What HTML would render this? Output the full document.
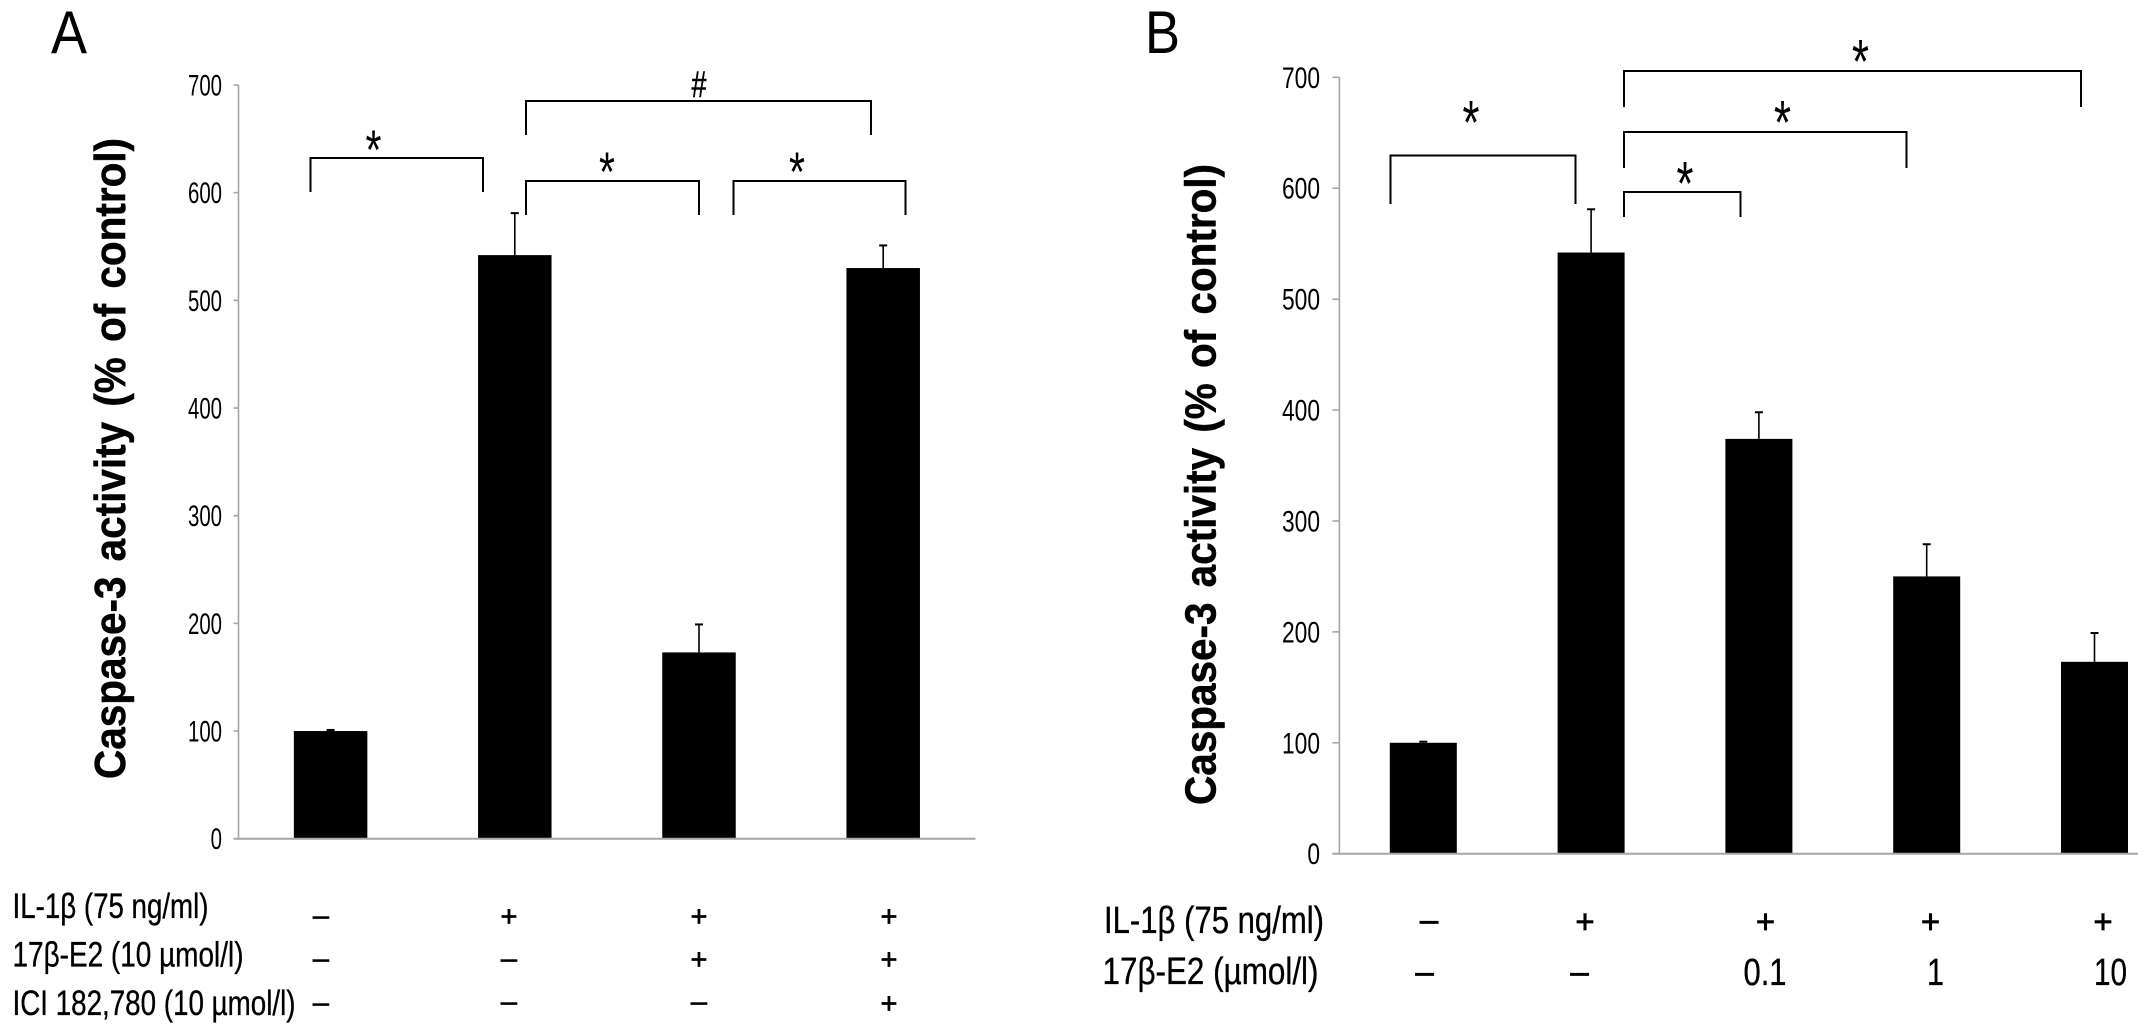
<!DOCTYPE html>
<html lang="en">
<head>
<meta charset="utf-8">
<title>Caspase-3 activity panels A and B</title>
<style>
html,body{margin:0;padding:0;background:#fff;width:2150px;height:1036px;overflow:hidden}
svg{display:block}
text{font-family:"Liberation Sans",sans-serif;fill:#000}
.title{font-weight:bold;font-size:44px;word-spacing:4.3px;stroke:#000;stroke-width:.5}
.row{font-size:35px;stroke:#000;stroke-width:.35}
.sym{font-size:29px;text-anchor:middle;stroke:#000;stroke-width:.7}
.star{font-size:56px;text-anchor:middle}
.starb{font-size:62px;text-anchor:middle}
.br{fill:none;stroke:#000;stroke-width:2}
</style>
</head>
<body>
<svg id="figure" xmlns="http://www.w3.org/2000/svg" width="2150" height="1036" viewBox="0 0 2150 1036">
  <rect x="0" y="0" width="2150" height="1036" fill="#fff"/>

  <g id="panel-a">
    <text x="51" y="53" font-size="60" textLength="36" lengthAdjust="spacingAndGlyphs">A</text>
    <text class="title" transform="translate(125,779) rotate(-90) scale(.92,1)">Caspase-3 activity (% of control)</text>
    <g id="a-ticks"></g>
    <g id="a-bars"></g>

    <g>
      <path class="br" d="M310.5 192V158H483V192"/>
      <path class="br" d="M526 215V181H699V215"/>
      <path class="br" d="M733.5 215V181H905.5V215"/>
      <path class="br" d="M526 135V101H871V135"/>
      <text class="star" x="373.5" y="169" textLength="16" lengthAdjust="spacingAndGlyphs">*</text>
      <text class="star" x="607" y="191" textLength="16" lengthAdjust="spacingAndGlyphs">*</text>
      <text class="star" x="797" y="191" textLength="16" lengthAdjust="spacingAndGlyphs">*</text>
      <text x="691.5" y="97" font-size="37" stroke="#000" stroke-width=".5" textLength="15" lengthAdjust="spacingAndGlyphs">#</text>
    </g>

    <g>
      <text class="row" x="12.5" y="918" textLength="196" lengthAdjust="spacingAndGlyphs">IL-1β (75 ng/ml)</text>
      <text class="row" x="12.5" y="966.5" textLength="231" lengthAdjust="spacingAndGlyphs">17β-E2 (10 µmol/l)</text>
      <text class="row" x="12.5" y="1015" textLength="283" lengthAdjust="spacingAndGlyphs">ICI 182,780 (10 µmol/l)</text>
      <text class="sym" x="321" y="925">–</text>
      <text class="sym" x="509" y="926">+</text>
      <text class="sym" x="699" y="926">+</text>
      <text class="sym" x="889" y="926">+</text>
      <text class="sym" x="321" y="968">–</text>
      <text class="sym" x="509" y="968">–</text>
      <text class="sym" x="699" y="969">+</text>
      <text class="sym" x="889" y="969">+</text>
      <text class="sym" x="321" y="1012">–</text>
      <text class="sym" x="509" y="1011">–</text>
      <text class="sym" x="699" y="1011">–</text>
      <text class="sym" x="889" y="1013">+</text>
    </g>
  </g>

  <g id="panel-b">
    <text x="1145" y="53" font-size="60" textLength="35" lengthAdjust="spacingAndGlyphs">B</text>
    <text class="title" transform="translate(1215.5,805) rotate(-90) scale(.92,1)">Caspase-3 activity (% of control)</text>
    <g id="b-ticks"></g>
    <g id="b-bars"></g>

    <g>
      <path class="br" d="M1390.5 204V155.5H1575.5V204"/>
      <path class="br" d="M1624 217V192H1740.5V217"/>
      <path class="br" d="M1624 168V132H1906.5V168"/>
      <path class="br" d="M1624 107V71H2081V107"/>
      <text class="starb" x="1471" y="144" textLength="17" lengthAdjust="spacingAndGlyphs">*</text>
      <text class="starb" x="1685" y="205" textLength="17" lengthAdjust="spacingAndGlyphs">*</text>
      <text class="starb" x="1782.5" y="144" textLength="17" lengthAdjust="spacingAndGlyphs">*</text>
      <text class="starb" x="1860.5" y="83" textLength="17" lengthAdjust="spacingAndGlyphs">*</text>
    </g>

    <g>
      <text class="row" x="1104" y="933" style="font-size:38px" textLength="220" lengthAdjust="spacingAndGlyphs">IL-1β (75 ng/ml)</text>
      <text class="row" x="1102.5" y="984" style="font-size:38px" textLength="216" lengthAdjust="spacingAndGlyphs">17β-E2 (µmol/l)</text>
      <text class="sym" x="1429" y="931" style="font-size:33px">–</text>
      <text class="sym" x="1585" y="933" style="font-size:33px">+</text>
      <text class="sym" x="1765.5" y="933" style="font-size:33px">+</text>
      <text class="sym" x="1930.5" y="933" style="font-size:33px">+</text>
      <text class="sym" x="2103" y="933" style="font-size:33px">+</text>
      <text class="sym" x="1424.5" y="983" style="font-size:33px">–</text>
      <text class="sym" x="1579.5" y="983" style="font-size:33px">–</text>
      <text class="row" x="1743.5" y="985" style="font-size:38px" textLength="43" lengthAdjust="spacingAndGlyphs">0.1</text>
      <text class="row" x="1927" y="985" style="font-size:38px" textLength="17" lengthAdjust="spacingAndGlyphs">1</text>
      <text class="row" x="2094" y="985" style="font-size:38px" textLength="33" lengthAdjust="spacingAndGlyphs">10</text>
    </g>
  </g>
</svg>

<script>
// Panel A data
const aCategories = ['control', 'IL-1b', 'IL-1b + E2', 'IL-1b + E2 + ICI'];
const aValues = [100, 542, 173, 530];
const aErrorTops = [101, 581, 199, 551];
// Panel B data
const bCategories = ['control', 'IL-1b', 'E2 0.1', 'E2 1', 'E2 10'];
const bValues = [100, 542, 374, 250, 173];
const bErrorTops = [101, 581, 398, 279, 199];
// Shared axis labels
const tickLabels = [0, 100, 200, 300, 400, 500, 600, 700];

const SVG_NS = 'http://www.w3.org/2000/svg';

function makeY(y0, y700) {
  return function (v) { return y0 + (y700 - y0) * v / 700; };
}
function makeX(left, band) {
  return function (i) { return left + (i + 0.5) * band; };
}

function drawPanel(prefix, categories, values, errorTops, cfg) {
  const y = makeY(cfg.y0, cfg.y700);
  const x = makeX(cfg.axisX, cfg.band);
  const tickGroup = document.getElementById(prefix + '-ticks');
  const barGroup = document.getElementById(prefix + '-bars');

  const yLine = document.createElementNS(SVG_NS, 'line');
  
  
  yLine.setAttribute('x1', cfg.axisX);
  yLine.setAttribute('x2', cfg.axisX);
  yLine.setAttribute('y1', y(700));
  yLine.setAttribute('y2', y(0));
  yLine.setAttribute('stroke', '#a6a6a6');
  yLine.setAttribute('stroke-width', '1.6');
  tickGroup.appendChild(yLine);

  tickLabels.forEach(function (t) {
    const tick = document.createElementNS(SVG_NS, 'line');
    
    
    tick.setAttribute('x1', cfg.axisX - cfg.tickLen);
    tick.setAttribute('x2', cfg.axisX);
    tick.setAttribute('y1', y(t));
    tick.setAttribute('y2', y(t));
    tick.setAttribute('stroke', '#a6a6a6');
    tick.setAttribute('stroke-width', '1.6');
    tickGroup.appendChild(tick);

    const label = document.createElementNS(SVG_NS, 'text');
    
    
    label.setAttribute('transform', 'translate(' + cfg.labelX + ',' + (y(t) + 10.5) + ') scale(' + cfg.labelScale + ',1)');
    label.setAttribute('text-anchor', 'end');
    label.setAttribute('font-size', '30');
    label.textContent = t;
    tickGroup.appendChild(label);
  });

  categories.forEach(function (c, i) {
    const cx = x(i);

    const stem = document.createElementNS(SVG_NS, 'line');
    
    
    stem.setAttribute('x1', cx);
    stem.setAttribute('x2', cx);
    stem.setAttribute('y1', y(errorTops[i]));
    stem.setAttribute('y2', y(values[i]));
    stem.setAttribute('stroke', '#000');
    stem.setAttribute('stroke-width', '1.6');
    barGroup.appendChild(stem);

    const cap = document.createElementNS(SVG_NS, 'line');
    
    
    cap.setAttribute('x1', cx - 4);
    cap.setAttribute('x2', cx + 4);
    cap.setAttribute('y1', y(errorTops[i]));
    cap.setAttribute('y2', y(errorTops[i]));
    cap.setAttribute('stroke', '#000');
    cap.setAttribute('stroke-width', '2');
    barGroup.appendChild(cap);

    const bar = document.createElementNS(SVG_NS, 'rect');
    
    
    bar.setAttribute('data-category', c);
    bar.setAttribute('x', cx - cfg.barW / 2);
    bar.setAttribute('width', cfg.barW);
    bar.setAttribute('y', y(values[i]));
    bar.setAttribute('height', y(0) - y(values[i]));
    bar.setAttribute('fill', '#000');
    barGroup.appendChild(bar);
  });

  const xLine = document.createElementNS(SVG_NS, 'line');
  
  
  xLine.setAttribute('x1', cfg.axisX - cfg.tickLen);
  xLine.setAttribute('x2', cfg.axisEnd);
  xLine.setAttribute('y1', y(0));
  xLine.setAttribute('y2', y(0));
  xLine.setAttribute('stroke', '#a6a6a6');
  xLine.setAttribute('stroke-width', '2');
  barGroup.appendChild(xLine);
}

drawPanel('a', aCategories, aValues, aErrorTops, {
  y0: 838.7, y700: 85, axisX: 238.5, band: 184.2, barW: 73.5, tickLen: 5,
  labelX: 222, labelScale: 0.68, axisEnd: 975.5
});
drawPanel('b', bCategories, bValues, bErrorTops, {
  y0: 853.7, y700: 77.3, axisX: 1339.4, band: 167.8, barW: 67, tickLen: 7,
  labelX: 1320, labelScale: 0.76, axisEnd: 2138
});
</script>
</body>
</html>
